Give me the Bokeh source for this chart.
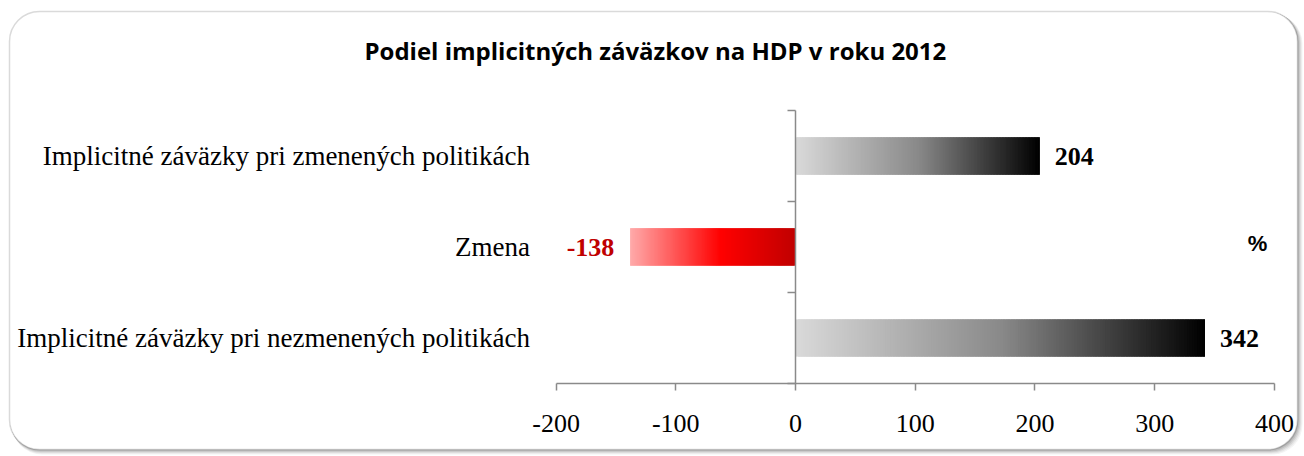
from bokeh.plotting import figure
from bokeh.models import LinearAxis, FixedTicker, Range1d, BoxAnnotation, Label, ColumnDataSource
from bokeh.embed import file_html
from bokeh.resources import INLINE
from bokeh.core.properties import value

# ---------------- data ----------------
title_text = "Podiel implicitných záväzkov na HDP  v roku 2012"
categories = ["Implicitné záväzky pri nezmenených politikách",
              "Zmena",
              "Implicitné záväzky pri zmenených politikách"]   # bottom -> top
values = [342, -138, 204]
x_ticks = [-200, -100, 0, 100, 200, 300, 400]
unit_label = "%"

# ---------------- layout ----------------
W, H = 1304, 456
PX_PER_X = 1.1972          # px per 1 unit on x
PX_PER_Y = 91.0            # px per category band
X0_CANVAS = 795            # canvas px of x = 0
Y0_CANVAS = 383            # canvas px (from top) of y = 0

def dx(px):
    return (px - X0_CANVAS) / PX_PER_X

def dy(py):
    return (Y0_CANVAS - py) / PX_PER_Y

p = figure(width=W, height=H, output_backend="svg", toolbar_location=None,
           x_axis_location=None, y_axis_location=None,
           x_range=Range1d(-X0_CANVAS / PX_PER_X, (W - X0_CANVAS) / PX_PER_X),
           y_range=Range1d(-(H - Y0_CANVAS) / PX_PER_Y, Y0_CANVAS / PX_PER_Y),
           min_border=0)
p.grid.visible = False
p.outline_line_color = None
p.background_fill_color = "white"
p.border_fill_color = "white"

# ---------------- rounded frame with shadow ----------------
for i, c in [(5, "#f4f4f4"), (4, "#e6e6e6"), (3, "#d4d4d4"), (2, "#c0c0c0"), (1, "#a8a8a8")]:
    p.add_layout(BoxAnnotation(left=dx(9 + i * 0.5), right=dx(1297 + i), top=dy(11 + i * 0.5), bottom=dy(449 + i),
                               fill_color=c, fill_alpha=1, line_color=None,
                               border_radius=30, level="underlay"))
p.add_layout(BoxAnnotation(left=dx(9), right=dx(1297), top=dy(11), bottom=dy(449),
                           fill_color="white", fill_alpha=1, line_color="#868686", line_width=1.5,
                           border_radius=30, level="underlay"))

# ---------------- gradient bars ----------------
BAR_H = 0.41
N = 160

def lerp_stops(stops, t):
    for (t0, c0), (t1, c1) in zip(stops[:-1], stops[1:]):
        if t <= t1:
            f = 0 if t1 == t0 else (t - t0) / (t1 - t0)
            return tuple(int(round(a + (b - a) * f)) for a, b in zip(c0, c1))
    return stops[-1][1]

gray_stops = [(0.0, (217, 217, 217)), (0.5, (138, 138, 138)), (1.0, (0, 0, 0))]
red_stops = [(0.0, (255, 170, 170)), (0.55, (255, 0, 0)), (1.0, (192, 0, 0))]

L, R, B, T, C = [], [], [], [], []
for idx, v in enumerate(values):
    yc = idx + 0.5
    for i in range(N):
        a, b = v * i / N, v * min(i + 2, N) / N      # slight overlap, hidden by next slice
        if v >= 0:
            t = (i + 0.5) / N                    # 0 at axis -> 1 at bar end
            col = lerp_stops(gray_stops, t)
        else:
            t = 1 - (i + 0.5) / N                # 0 at bar end (left) -> 1 at axis
            col = lerp_stops(red_stops, t)
        L.append(min(a, b)); R.append(max(a, b))
        B.append(yc - BAR_H / 2); T.append(yc + BAR_H / 2)
        C.append("#%02x%02x%02x" % col)
src = ColumnDataSource(dict(left=L, right=R, bottom=B, top=T, color=C))
p.quad(left="left", right="right", bottom="bottom", top="top", source=src,
       fill_color="color", line_color=None)

# ---------------- value labels ----------------
pos = [(v, i + 0.5) for i, v in enumerate(values) if v >= 0]
neg = [(v, i + 0.5) for i, v in enumerate(values) if v < 0]
p.text(x=[a for a, _ in pos], y=[b for _, b in pos], text=[str(a) for a, _ in pos],
       x_offset=15, text_align="left", text_baseline="middle",
       text_font=value("Liberation Serif"), text_font_style="bold",
       text_font_size="26px", text_color="black")
p.text(x=[a for a, _ in neg], y=[b for _, b in neg], text=[str(a) for a, _ in neg],
       x_offset=-16, text_align="right", text_baseline="middle",
       text_font=value("Liberation Serif"), text_font_style="bold",
       text_font_size="26px", text_color="#C00000")

# ---------------- axes ----------------
AX_COL = "#8a8a8a"
xax = LinearAxis(fixed_location=0, bounds=(x_ticks[0], x_ticks[-1]),
                 ticker=FixedTicker(ticks=x_ticks, minor_ticks=[]))
xax.axis_line_color = AX_COL
xax.axis_line_width = 1.5
xax.major_tick_line_color = AX_COL
xax.major_tick_line_width = 1.5
xax.major_tick_out = 7
xax.major_tick_in = 0
xax.minor_tick_line_color = None
xax.major_label_standoff = 24
xax.major_label_overrides = {t: str(t) for t in x_ticks}
xax.major_label_text_font = "Liberation Serif"
xax.major_label_text_font_size = "26px"
xax.major_label_text_color = "black"
p.add_layout(xax, "below")

# vertical axis at x = 0 with ticks at category boundaries
yax = LinearAxis(fixed_location=0, bounds=(0, len(categories)),
                 ticker=FixedTicker(ticks=list(range(len(categories) + 1)), minor_ticks=[]))
yax.axis_line_color = AX_COL
yax.axis_line_width = 1.5
yax.major_tick_line_color = AX_COL
yax.major_tick_line_width = 1.5
yax.major_tick_out = 8
yax.major_tick_in = 0
yax.minor_tick_line_color = None
yax.major_label_overrides = {i: "" for i in range(len(categories) + 1)}
yax.major_label_text_font_size = "0px"
p.add_layout(yax, "left")

# category labels, placed left of the start of the value axis
cat_ticks = [i + 0.5 for i in range(len(categories))]
cax = LinearAxis(fixed_location=x_ticks[0],
                 ticker=FixedTicker(ticks=cat_ticks, minor_ticks=[]))
cax.axis_line_color = None
cax.major_tick_line_color = None
cax.minor_tick_line_color = None
cax.major_tick_out = 0
cax.major_tick_in = 0
cax.major_label_standoff = 26
cax.major_label_overrides = {t: c for t, c in zip(cat_ticks, categories)}
cax.major_label_text_font = "Liberation Serif"
cax.major_label_text_font_size = "27px"
cax.major_label_text_color = "black"
p.add_layout(cax, "left")

# ---------------- title and unit ----------------
p.add_layout(Label(x=dx(658), y=dy(50), text=title_text, text_align="center",
                   text_baseline="middle", text_font="Open Sans", text_font_style="bold",
                   text_font_size="24px", text_color="black"))
p.add_layout(Label(x=dx(1257), y=dy(243), text=unit_label, text_align="center",
                   text_baseline="middle", text_font="Liberation Sans", text_font_style="bold",
                   text_font_size="22px", text_color="black"))

open("out.html", "w").write(file_html(p, INLINE))
